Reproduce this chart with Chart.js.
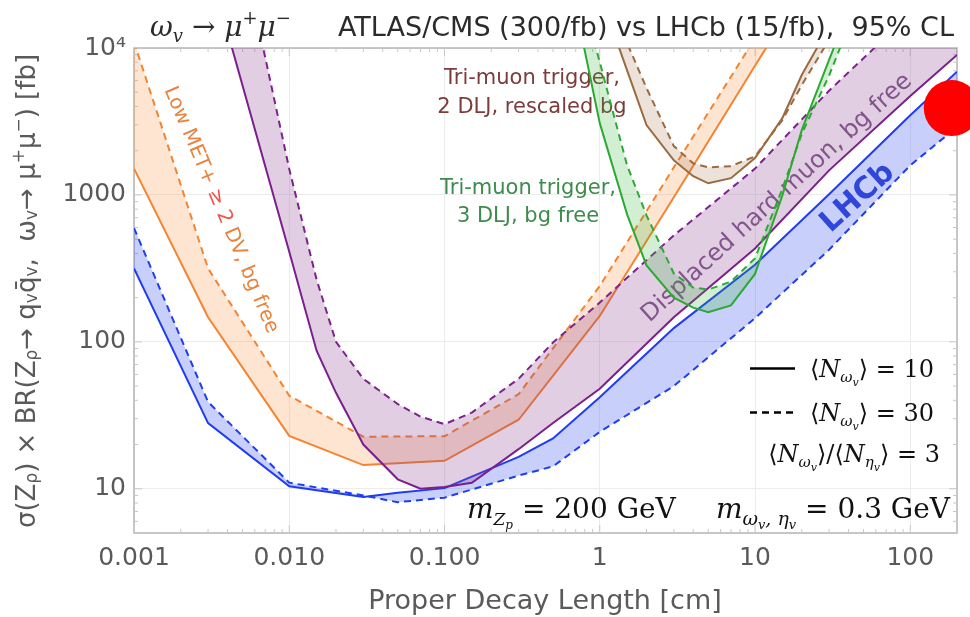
<!DOCTYPE html>
<html>
<head>
<meta charset="utf-8">
<script src="https://cdn.jsdelivr.net/npm/chart.js@4.4.1/dist/chart.umd.min.js"></script>
<style>
  html, body { margin: 0; padding: 0; background: #fff; overflow: hidden; }
  #limitChart { display: block; }
</style>
</head>
<body>
<!-- a little wider than the window: the tick-label padding Chart.js keeps on the right falls outside -->
<canvas id="limitChart" width="985" height="617"></canvas>
<script>
// proper decay length [cm] on x, sigma x BR [fb] on y

// LHCb (15/fb)
const lhcbX = [0.001, 0.003, 0.01, 0.03, 0.05, 0.1, 0.3, 0.5, 1, 3, 10, 30, 100, 200];
const lhcbN10 = [316, 28, 10.4, 8.8, 9.4, 10.1, 16.5, 22, 42, 124, 335, 1010, 3490, 6900];
const lhcbN30 = [595, 39, 11, 9.0, 8.1, 8.7, 12.3, 14.2, 24.4, 50, 145, 424, 1590, 2900];

// Low MET + >= 2 DV, bg free
const metX = [0.001, 0.003, 0.01, 0.03, 0.1, 0.3, 1, 3, 10, 30];
const metN10 = [1510, 147, 22.9, 14.5, 15.5, 29.5, 150, 965, 7560, 49000];
const metN30 = [11000, 316, 43, 22.6, 22.8, 44, 240, 1540, 11600, 74000];

// displaced hard muon, bg free
const hardMuX = [0.003, 0.01, 0.015, 0.02, 0.03, 0.05, 0.07, 0.1, 0.15, 0.3, 0.5, 1, 3, 10, 30, 100, 200];
const hardMuN10 = [38000, 410, 87, 45, 20, 11.6, 10, 10.3, 11, 18.6, 28, 48, 147, 432, 1470, 4720, 8960];
const hardMuN30 = [550000, 1500, 265, 100, 56, 37.7, 31, 27.5, 33, 56, 99, 185, 530, 1510, 5120, 17000, 30000];

// tri-muon trigger, 2 DLJ, rescaled bg
const dlj2X = [1, 1.5, 2, 3, 4, 5, 7, 10, 15, 20, 30];
const dlj2N10 = [23500, 7050, 2990, 1720, 1340, 1200, 1300, 1780, 3330, 6550, 14000];
const dlj2N30 = [29500, 10800, 5340, 2150, 1640, 1540, 1570, 1830, 3230, 5590, 11400];

// tri-muon trigger, 3 DLJ, bg free
const dlj3X = [0.7, 1, 1.5, 2, 3, 4, 5, 7, 10, 15, 20, 30, 40];
const dlj3N10 = [19000, 3080, 738, 331, 200, 171, 159, 177, 290, 990, 2760, 8300, 18000];
const dlj3N30 = [33000, 8000, 1590, 726, 292, 234, 227, 257, 370, 1100, 2600, 6500, 14000];

// red marker
const markerX = [185];
const markerY = [3900];

const xTickValues = [0.001, 0.01, 0.1, 1, 10, 100];
const xTickLabels = ['0.001', '0.010', '0.100', '1', '10', '100'];
const yTickValues = [10, 100, 1000, 10000];
const yTickLabels = ['10', '100', '1000', '10⁴'];

const SANS = '"DejaVu Sans", "Liberation Sans", sans-serif';
const SERIF = '"DejaVu Serif", "Liberation Serif", serif';

const toPoints = (xs, ys) => xs.map((x, i) => ({ x: x, y: ys[i] }));

function band(xs, n10, n30, line, shade) {
  return [
    { data: toPoints(xs, n10), borderColor: line, borderWidth: 2, pointRadius: 0,
      fill: '+1', backgroundColor: shade },
    { data: toPoints(xs, n30), borderColor: line, borderWidth: 2, pointRadius: 0,
      borderDash: [7, 5], fill: false }
  ];
}

const datasets = [
  { data: toPoints(markerX, markerY), showLine: false, pointRadius: 28, pointHoverRadius: 28,
    pointBackgroundColor: '#ff0000', pointBorderWidth: 0, clip: false },
  ...band(dlj3X, dlj3N10, dlj3N30, '#2ea834', 'rgba(50,180,60,0.22)'),
  ...band(dlj2X, dlj2N10, dlj2N30, '#9a6a40', 'rgba(160,110,70,0.2)'),
  ...band(hardMuX, hardMuN10, hardMuN30, '#7a1f8c', 'rgba(140,60,140,0.25)'),
  ...band(metX, metN10, metN30, '#f5832f', 'rgba(250,135,50,0.22)'),
  ...band(lhcbX, lhcbN10, lhcbN30, '#1f3cf2', 'rgba(40,70,235,0.26)')
];

// text made of pieces with their own font and vertical shift
function drawRich(ctx, parts, x, y, align) {
  ctx.textAlign = 'left';
  let w = 0;
  parts.forEach(p => { ctx.font = p.f; w += ctx.measureText(p.t).width; });
  let cx = align === 'center' ? x - w / 2 : align === 'right' ? x - w : x;
  parts.forEach(p => {
    ctx.font = p.f;
    if (p.c) ctx.fillStyle = p.c;
    ctx.fillText(p.t, cx, y + (p.dy || 0));
    cx += ctx.measureText(p.t).width;
  });
}

function seg(ctx, x1, y1, x2, y2) {
  ctx.beginPath(); ctx.moveTo(x1, y1); ctx.lineTo(x2, y2); ctx.stroke();
}

const decor = {
  id: 'decor',
  beforeDatasetsDraw(chart) {
    const { ctx, chartArea: a, scales } = chart;
    const xs = scales.x, ys = scales.y;
    ctx.save();

    // frame and small ticks on all four sides
    ctx.strokeStyle = '#b4b4b4';
    ctx.lineWidth = 1.5;
    ctx.strokeRect(a.left, a.top, a.right - a.left, a.bottom - a.top);
    ctx.lineWidth = 1;
    ctx.strokeStyle = '#c8c8c8';
    for (let d = -3; d <= 2; d++) {
      for (let m = 1; m <= 9; m++) {
        const v = m * Math.pow(10, d);
        if (v < xs.min || v > xs.max) continue;
        const px = xs.getPixelForValue(v), len = m === 1 ? 8 : 4;
        seg(ctx, px, a.bottom, px, a.bottom - len);
        seg(ctx, px, a.top, px, a.top + len);
      }
    }
    for (let d = 0; d <= 4; d++) {
      for (let m = 1; m <= 9; m++) {
        const v = m * Math.pow(10, d);
        if (v < ys.min || v > ys.max) continue;
        const py = ys.getPixelForValue(v), len = m === 1 ? 8 : 4;
        seg(ctx, a.left, py, a.left + len, py);
        seg(ctx, a.right, py, a.right - len, py);
      }
    }

    // curve labels
    ctx.textBaseline = 'middle';
    ctx.textAlign = 'center';
    ctx.font = `21px ${SANS}`;
    ctx.fillStyle = '#7d3c3c';
    ctx.fillText('Tri-muon trigger,', 532, 79);
    ctx.fillText('2 DLJ, rescaled bg', 532, 108);
    ctx.fillStyle = '#3d8b4d';
    ctx.fillText('Tri-muon trigger,', 528, 189);
    ctx.fillText('3 DLJ, bg free', 528, 217);

    ctx.save();
    ctx.translate(221, 210);
    ctx.rotate(67 * Math.PI / 180);
    drawRich(ctx, [
      { t: 'Low MET+ ', f: `20px ${SANS}`, c: '#e8823f' },
      { t: '≥ 2', f: `20px ${SANS}`, c: '#f0564a' },
      { t: ' DV, bg free', f: `20px ${SANS}`, c: '#e8823f' }
    ], 0, 0, 'center');
    ctx.restore();

    ctx.save();
    ctx.translate(777, 198);
    ctx.rotate(-42.4 * Math.PI / 180);
    ctx.font = `24px ${SANS}`;
    ctx.fillStyle = '#7e5c8c';
    ctx.textAlign = 'center';
    ctx.fillText('Displaced hard muon, bg free', 0, 0);
    ctx.restore();

    ctx.save();
    ctx.translate(858, 198);
    ctx.rotate(-42 * Math.PI / 180);
    ctx.font = `bold 30px ${SANS}`;
    ctx.fillStyle = '#3347d1';
    ctx.textAlign = 'center';
    ctx.fillText('LHCb', 0, 0);
    ctx.restore();

    // line-style key
    ctx.strokeStyle = '#000';
    ctx.lineWidth = 2.5;
    seg(ctx, 750, 368.5, 795, 368.5);
    ctx.setLineDash([7, 5]);
    seg(ctx, 750, 412.5, 795, 412.5);
    ctx.setLineDash([]);
    ctx.fillStyle = '#111';
    ctx.textBaseline = 'alphabetic';
    const nOmega = [
      { t: '⟨', f: `24px ${SERIF}` },
      { t: 'N', f: `italic 24px ${SERIF}` },
      { t: 'ω', f: `italic 15px ${SERIF}`, dy: 5 },
      { t: 'v', f: `italic 11px ${SERIF}`, dy: 9 },
      { t: '⟩', f: `24px ${SERIF}` }
    ];
    drawRich(ctx, [...nOmega, { t: ' = 10', f: `24px ${SERIF}` }], 810, 377, 'left');
    drawRich(ctx, [...nOmega, { t: ' = 30', f: `24px ${SERIF}` }], 810, 421, 'left');
    drawRich(ctx, [...nOmega, { t: '/', f: `24px ${SERIF}` },
      { t: '⟨', f: `24px ${SERIF}` },
      { t: 'N', f: `italic 24px ${SERIF}` },
      { t: 'η', f: `italic 15px ${SERIF}`, dy: 5 },
      { t: 'v', f: `italic 11px ${SERIF}`, dy: 9 },
      { t: '⟩ = 3', f: `24px ${SERIF}` }], 940, 462, 'right');

    // benchmark masses
    drawRich(ctx, [
      { t: 'm', f: `italic 28px ${SERIF}` },
      { t: 'Z', f: `italic 17px ${SERIF}`, dy: 7 },
      { t: 'p', f: `italic 12px ${SERIF}`, dy: 11 },
      { t: ' = 200 GeV', f: `28px ${SERIF}` }
    ], 467, 518, 'left');
    drawRich(ctx, [
      { t: 'm', f: `italic 28px ${SERIF}` },
      { t: 'ω', f: `italic 19px ${SERIF}`, dy: 7 },
      { t: 'v', f: `italic 13px ${SERIF}`, dy: 11 },
      { t: ', ', f: `italic 19px ${SERIF}`, dy: 7 },
      { t: 'η', f: `italic 19px ${SERIF}`, dy: 7 },
      { t: 'v', f: `italic 13px ${SERIF}`, dy: 11 },
      { t: ' = 0.3 GeV', f: `28px ${SERIF}` }
    ], 950, 518, 'right');

    ctx.restore();
  },
  afterDraw(chart) {
    const { ctx } = chart;
    ctx.save();
    ctx.textBaseline = 'alphabetic';

    // title
    ctx.fillStyle = '#2b2b2b';
    drawRich(ctx, [
      { t: 'ω', f: `italic 28px ${SERIF}` },
      { t: 'v', f: `italic 18px ${SERIF}`, dy: 6 },
      { t: ' → ', f: `28px ${SERIF}` },
      { t: 'μ', f: `italic 28px ${SERIF}` },
      { t: '+', f: `18px ${SERIF}`, dy: -12 },
      { t: 'μ', f: `italic 28px ${SERIF}` },
      { t: '−', f: `18px ${SERIF}`, dy: -12 }
    ], 150, 36, 'left');
    ctx.font = `27px ${SANS}`;
    ctx.fillText('ATLAS/CMS (300/fb) vs LHCb (15/fb),  95% CL', 338, 36);

    // axis titles
    ctx.fillStyle = '#5a5a5a';
    ctx.font = `27px ${SANS}`;
    ctx.textAlign = 'center';
    ctx.fillText('Proper Decay Length [cm]', 545, 609);

    ctx.save();
    ctx.translate(28, 291);
    ctx.rotate(-Math.PI / 2);
    ctx.textBaseline = 'middle';
    const big = `26px ${SANS}`, small = `17px ${SANS}`;
    drawRich(ctx, [
      { t: 'σ(Z', f: big }, { t: 'ρ', f: small, dy: 5 },
      { t: ') × BR(Z', f: big }, { t: 'ρ', f: small, dy: 5 },
      { t: '→ q', f: big }, { t: 'v', f: small, dy: 5 },
      { t: 'q̄', f: big }, { t: 'v', f: small, dy: 5 },
      { t: ',  ω', f: big }, { t: 'v', f: small, dy: 5 },
      { t: '→ μ', f: big }, { t: '+', f: small, dy: -8 },
      { t: 'μ', f: big }, { t: '−', f: small, dy: -8 },
      { t: ') [fb]', f: big }
    ], 0, 0, 'center');
    ctx.restore();

    ctx.restore();
  }
};

new Chart(document.getElementById('limitChart'), {
  type: 'line',
  data: { datasets: datasets },
  options: {
    responsive: false,
    animation: false,
    devicePixelRatio: 1,
    layout: { padding: { top: 48, right: 12, left: 0, bottom: 0 } },
    elements: { line: { tension: 0 } },
    plugins: { legend: { display: false }, tooltip: { enabled: false } },
    scales: {
      x: {
        type: 'logarithmic',
        min: 0.001,
        max: 200,
        afterBuildTicks: s => { s.ticks = xTickValues.map(v => ({ value: v })); },
        afterFit: s => { s.height = 84; },
        ticks: {
          callback: (v, i) => xTickLabels[i],
          autoSkip: false, maxRotation: 0, padding: 10,
          color: '#5a5a5a', font: { family: SANS, size: 25 }
        },
        grid: { color: '#ececec', drawTicks: false },
        border: { display: false }
      },
      y: {
        type: 'logarithmic',
        min: 5,
        max: 10000,
        afterBuildTicks: s => { s.ticks = yTickValues.map(v => ({ value: v })); },
        afterFit: s => { s.width = 134; },
        ticks: {
          callback: (v, i) => yTickLabels[i],
          autoSkip: false, padding: 8,
          color: '#5a5a5a', font: { family: SANS, size: 25 }
        },
        grid: { color: '#ececec', drawTicks: false },
        border: { display: false }
      }
    }
  },
  plugins: [decor]
});
</script>
</body>
</html>
